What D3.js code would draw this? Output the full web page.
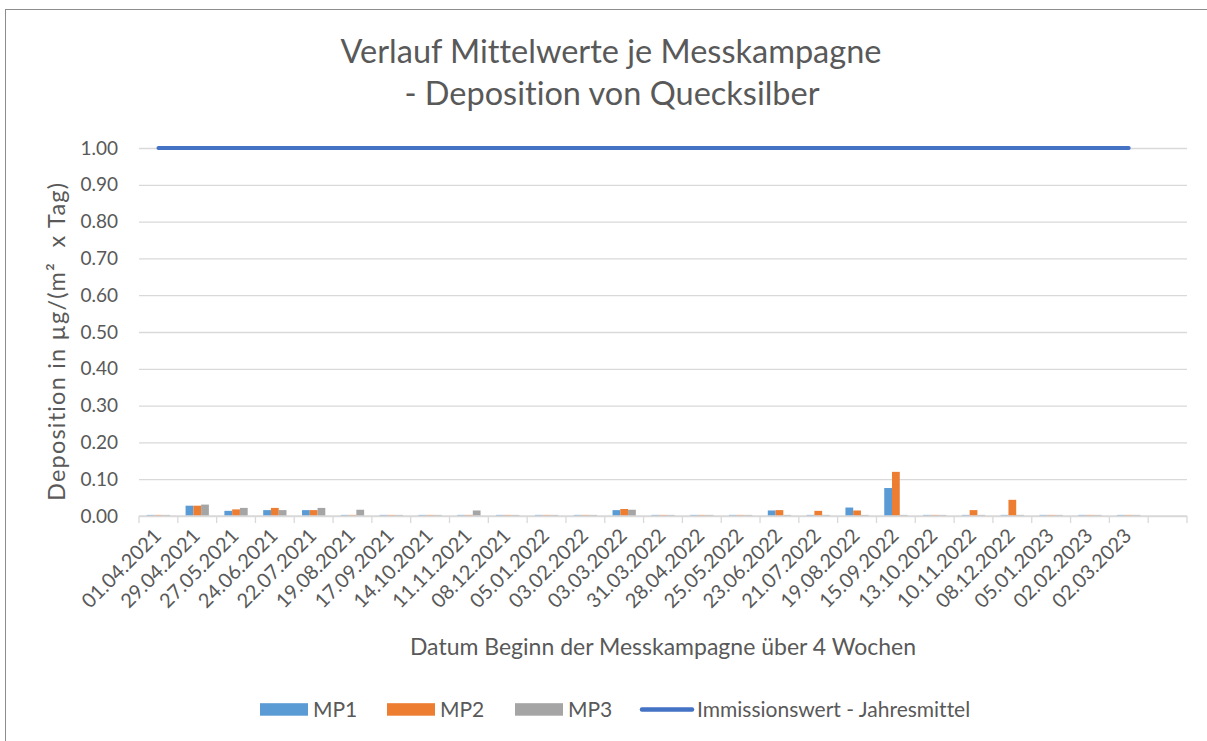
<!DOCTYPE html>
<html>
<head>
<meta charset="utf-8">
<script src="https://cdn.jsdelivr.net/npm/d3@7"></script>
<style>
	body { margin: 0; background: #fff; }
	text { font-family: Lato, "Open Sans", sans-serif; fill: #595959; font-variant-ligatures: none; font-feature-settings: "liga" 0; }
</style>
</head>
<body>
<svg id="chart" width="1207" height="741"></svg>
<script>
// Kampagnen (Beginn), letzte Kategorie leer
var dates = ["01.04.2021", "29.04.2021", "27.05.2021", "24.06.2021", "22.07.2021", "19.08.2021",
	"17.09.2021", "14.10.2021", "11.11.2021", "08.12.2021", "05.01.2022", "03.02.2022",
	"03.03.2022", "31.03.2022", "28.04.2022", "25.05.2022", "23.06.2022", "21.07.2022",
	"19.08.2022", "15.09.2022", "13.10.2022", "10.11.2022", "08.12.2022", "05.01.2023",
	"02.02.2023", "02.03.2023", ""];

var mp1 = [0.003, 0.028, 0.014, 0.016, 0.016, 0.003, 0.003, 0.003, 0.003, 0.003, 0.003, 0.003, 0.016,
	0.003, 0.003, 0.003, 0.015, 0.003, 0.023, 0.076, 0.003, 0.003, 0.003, 0.003, 0.003, 0.003, null];
var mp2 = [0.003, 0.028, 0.018, 0.022, 0.016, 0.003, 0.003, 0.003, 0.003, 0.003, 0.003, 0.003, 0.019,
	0.003, 0.003, 0.003, 0.016, 0.014, 0.015, 0.120, 0.003, 0.016, 0.044, 0.003, 0.003, 0.003, null];
var mp3 = [0.003, 0.031, 0.022, 0.016, 0.022, 0.017, 0.003, 0.003, 0.015, 0.003, 0.003, 0.003, 0.017,
	0.003, 0.003, 0.003, 0.003, 0.003, 0.003, 0.003, 0.003, 0.003, 0.003, 0.003, 0.003, 0.003, null];
var limit = [1, 1, 1, 1, 1, 1, 1, 1, 1, 1, 1, 1, 1, 1, 1, 1, 1, 1, 1, 1, 1, 1, 1, 1, 1, 1, null];

var yTicks = [0, 0.1, 0.2, 0.3, 0.4, 0.5, 0.6, 0.7, 0.8, 0.9, 1.0];
var seriesNames = ["MP1", "MP2", "MP3"];
var colors = ["#5B9BD5", "#ED7D31", "#A5A5A5"];
var lineName = "Immissionswert - Jahresmittel";

var svg = d3.select("#chart");
var margin = {top: 148, right: 20, bottom: 225, left: 139};
var width = 1187 - margin.left, height = 516 - margin.top;

// outer frame
svg.append("rect")
	.attr("x", 5.5).attr("y", 9.5)
	.attr("width", 1300).attr("height", 800)
	.attr("fill", "none").attr("stroke", "#8C8C8C").attr("stroke-width", 1);

var g = svg.append("g").attr("transform", "translate(" + margin.left + "," + margin.top + ")");

var x = d3.scaleBand().domain(d3.range(dates.length)).range([0, width]).paddingInner(0.4).paddingOuter(0.2);
var step = width / dates.length;
var y = d3.scaleLinear().domain([0, 1]).range([height, 0]);
var xs = d3.scaleBand().domain(d3.range(3)).range([0, x.bandwidth()]);

// gridlines
g.append("g")
	.call(d3.axisLeft(y).tickValues(yTicks).tickSize(-width).tickFormat(function(d) { return d.toFixed(2); }))
	.call(function(a) {
		a.select(".domain").remove();
		a.selectAll("line").attr("stroke", "#D9D9D9").attr("stroke-width", 1.3);
		a.selectAll("text").attr("x", -21).style("font-size", "19px").attr("fill", "#595959");
	});

// bars
seriesNames.forEach(function(name, s) {
	var vals = [mp1, mp2, mp3][s];
	g.selectAll(".bar" + s)
		.data(vals.map(function(v, i) { return {i: i, v: v}; }).filter(function(d) { return d.v != null; }))
		.enter().append("rect")
		.attr("class", "bar" + s)
		.attr("x", function(d) { return x(d.i) + xs(s); })
		.attr("y", function(d) { return y(d.v); })
		.attr("width", xs.bandwidth())
		.attr("height", function(d) { return height - y(d.v); })
		.attr("fill", colors[s]);
});

// x axis with boundary ticks
var xa = g.append("g").attr("transform", "translate(0," + height + ")");
xa.append("line").attr("x1", 0).attr("x2", width).attr("stroke", "#D9D9D9").attr("stroke-width", 1.3);
xa.selectAll(".tk").data(d3.range(dates.length + 1)).enter().append("line")
	.attr("x1", function(d) { return d * step; }).attr("x2", function(d) { return d * step; })
	.attr("y1", 0).attr("y2", 7)
	.attr("stroke", "#D9D9D9").attr("stroke-width", 1.3);
xa.selectAll(".lbl").data(dates).enter().append("text")
	.attr("transform", function(d, i) { return "translate(" + (x(i) + x.bandwidth() / 2 + 4) + ",21) rotate(-45)"; })
	.attr("text-anchor", "end")
	.style("font-size", "20px")
	.text(function(d) { return d; });

// limit line
var line = d3.line()
	.defined(function(d) { return d != null; })
	.x(function(d, i) { return x(i) + x.bandwidth() / 2; })
	.y(function(d) { return y(d); });
g.append("path").datum(limit)
	.attr("d", line)
	.attr("fill", "none").attr("stroke", "#4472C4").attr("stroke-width", 3.8).attr("stroke-linecap", "round");

// titles
svg.append("text").attr("x", 611).attr("y", 63).attr("text-anchor", "middle").style("font-size", "32.5px")
	.text("Verlauf Mittelwerte je Messkampagne");
svg.append("text").attr("x", 612).attr("y", 105).attr("text-anchor", "middle").style("font-size", "32.5px")
	.text("- Deposition von Quecksilber");
svg.append("text").attr("x", 663).attr("y", 655).attr("text-anchor", "middle").style("font-size", "23px")
	.text("Datum Beginn der Messkampagne über 4 Wochen");
svg.append("text").attr("transform", "translate(65,342) rotate(-90)").attr("text-anchor", "middle")
	.style("font-size", "23.5px").style("white-space", "pre")
	.attr("textLength", 318).attr("lengthAdjust", "spacing")
	.text("Deposition in µg/(m²  x Tag)");

// legend
var leg = svg.append("g").attr("transform", "translate(0,709.5)");
var lx = [260, 387, 515];
seriesNames.forEach(function(name, s) {
	leg.append("rect").attr("x", lx[s]).attr("y", -6.3).attr("width", 48).attr("height", 12.5).attr("fill", colors[s]);
	leg.append("text").attr("x", lx[s] + 53).attr("y", 7).style("font-size", "21px").text(name);
});
leg.append("line").attr("x1", 642).attr("x2", 692).attr("y1", 0).attr("y2", 0)
	.attr("stroke", "#4472C4").attr("stroke-width", 4.5).attr("stroke-linecap", "round");
leg.append("text").attr("x", 697).attr("y", 7).style("font-size", "21px").text(lineName);
</script>
</body>
</html>
